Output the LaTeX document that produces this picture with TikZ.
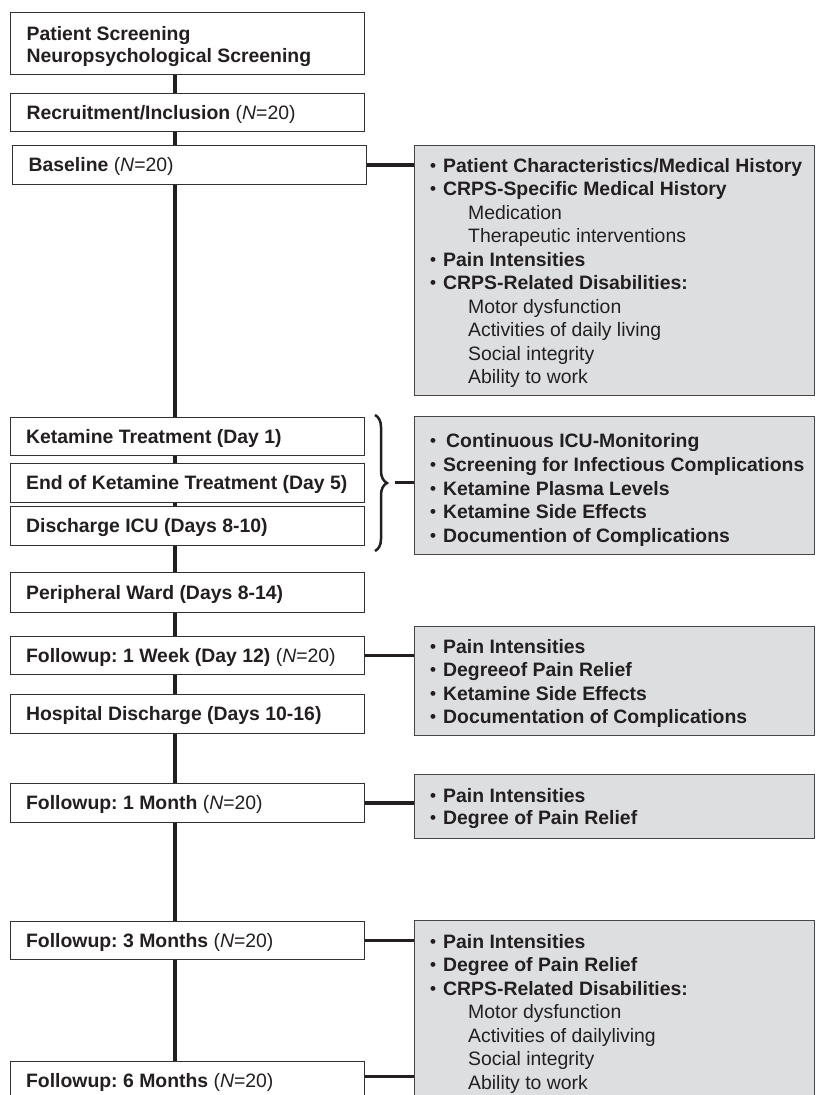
\documentclass[tikz,border=0pt]{standalone}
\usepackage{fontspec}
\setmainfont{Liberation Sans}
\usetikzlibrary{decorations.pathreplacing}
\definecolor{ink}{RGB}{35,31,32}
\definecolor{boxline}{RGB}{50,50,50}
\definecolor{grayfill}{RGB}{221,222,224}
\definecolor{grayline}{RGB}{70,70,70}
\frenchspacing
\newcommand{\lt}[1]{\makebox[322pt][l]{#1}}
\newcommand{\nn}{\textmd{(\textit{N}=20)}}
\newcommand{\bul}{\makebox[13pt][l]{\raisebox{1pt}{\fontsize{17}{17}\selectfont\textbullet}}}
\newcommand{\bulw}{\makebox[16pt][l]{\raisebox{1pt}{\fontsize{17}{17}\selectfont\textbullet}}}
\begin{document}
\begin{tikzpicture}[x=1pt,y=-1pt,
  lbox/.style={draw=boxline, line width=1.2pt, fill=white, anchor=north west,
    minimum height=38pt, inner xsep=16pt, inner ysep=0pt, text=ink,
    font=\fontsize{19.4}{22}\selectfont\bfseries, text height=14pt, text depth=1pt, align=left},
  gbox/.style={draw=grayline, line width=1.3pt, fill=grayfill, anchor=north west, inner sep=0pt, minimum width=400pt},
  gitem/.style={anchor=base west, inner sep=0pt, text=ink, font=\fontsize{19.4}{23.5}\selectfont\bfseries},
  gsub/.style={gitem, font=\fontsize{19.4}{23.5}\selectfont\mdseries},
  spine/.style={line width=3.2pt, draw=ink},
  link/.style={line width=3.4pt, draw=ink}]
\path[use as bounding box] (0,0) rectangle (815,1095);
\clip (0,0) rectangle (815,1095);

% left column
\node[lbox, minimum height=62pt, text height={}, text depth={}] (ps) at (10,12)
  {\lt{\rule{0pt}{20pt}Patient Screening}\\\lt{Neuropsychological Screening}};
\node[lbox] (ri) at (10,93) {\lt{Recruitment/Inclusion \nn}};
\node[lbox, minimum height=39pt] (bl) at (12,145) {\lt{Baseline \nn}};
\node[lbox] (k1) at (9.5,417) {\lt{Ketamine Treatment (Day 1)}};
\node[lbox, minimum height=39pt] (k5) at (9.5,463) {\lt{End of Ketamine Treatment (Day 5)}};
\node[lbox, minimum height=39pt] (icu) at (9.5,506) {\lt{Discharge ICU (Days 8-10)}};
\node[lbox, minimum height=40pt] (pw) at (9.5,572) {\lt{Peripheral Ward (Days 8-14)}};
\node[lbox] (w1) at (9.5,636) {\lt{Followup: 1 Week (Day 12) \nn}};
\node[lbox, minimum height=39pt] (hd) at (9.5,694) {\lt{Hospital Discharge (Days 10-16)}};
\node[lbox, minimum height=39pt] (m1) at (9.5,783) {\lt{Followup: 1 Month \nn}};
\node[lbox] (m3) at (9.5,921) {\lt{Followup: 3 Months \nn}};
\node[lbox] (m6) at (9.5,1061) {\lt{Followup: 6 Months \nn}};

% spine
\coordinate (sp) at (175,0);
\foreach \a/\b in {ps/ri, ri/bl, bl/k1, k1/k5, k5/icu, icu/pw, pw/w1, w1/hd, hd/m1, m1/m3, m3/m6}
  \draw[spine] (sp |- \a.south) -- (sp |- \b.north);

% gray boxes
\node[gbox, minimum height=250pt] (g1) at (414,145) {};
\node[gbox, minimum height=138pt] (g2) at (414,416) {};
\node[gbox, minimum height=109pt] (g3) at (414,626) {};
\node[gbox, minimum height=64pt] (g4) at (414,774) {};
\node[gbox, minimum height=200pt] (g5) at (414,920) {};

% links
\draw[link] (bl.east) -- (bl.east -| g1.west);
\draw[link] (w1.east) -- (w1.east -| g3.west);
\draw[link] (m1.east) -- (m1.east -| g4.west);
\draw[link] (m3.east) -- (m3.east -| g5.west);
\draw[link] ([yshift=4pt]m6.east) -- ([yshift=4pt]m6.east -| g5.west);

% brace
\draw[ink, line width=2.5pt, decorate, decoration={brace, amplitude=12pt, aspect=0.5}] (375,415) -- (375,551);
\coordinate (bt) at (395,482);
\draw[link, line width=3pt] (bt) -- (bt -| g2.west);

% gray box 1
\node[gitem] (g1a) at (430,172) {\bul Patient Characteristics/Medical History};
\node[gitem] (g1b) at (430,195.5) {\bul CRPS-Specific Medical History};
\node[gsub] (g1c) at (468,219) {Medication};
\node[gsub] (g1d) at (468,242.5) {Therapeutic interventions};
\node[gitem] (g1e) at (430,266) {\bul Pain Intensities};
\node[gitem] (g1f) at (430,289.5) {\bul CRPS-Related Disabilities:};
\node[gsub] (g1g) at (468,313) {Motor dysfunction};
\node[gsub] (g1h) at (468,336.5) {Activities of daily living};
\node[gsub] (g1i) at (468,360) {Social integrity};
\node[gsub] (g1j) at (468,383.5) {Ability to work};

% gray box 2
\node[gitem] (g2a) at (430,447) {\bulw Continuous ICU-Monitoring};
\node[gitem] (g2b) at (430,471) {\bul Screening for Infectious Complications};
\node[gitem] (g2c) at (430,495) {\bul Ketamine Plasma Levels};
\node[gitem] (g2d) at (430,518.5) {\bul Ketamine Side Effects};
\node[gitem] (g2e) at (430,542) {\bul Documention of Complications};

% gray box 3
\node[gitem] (g3a) at (430,653) {\bul Pain Intensities};
\node[gitem] (g3b) at (430,676.5) {\bul Degreeof Pain Relief};
\node[gitem] (g3c) at (430,700) {\bul Ketamine Side Effects};
\node[gitem] (g3d) at (430,723.5) {\bul Documentation of Complications};

% gray box 4
\node[gitem] (g4a) at (430,802) {\bul Pain Intensities};
\node[gitem] (g4b) at (430,824.5) {\bul Degree of Pain Relief};

% gray box 5
\node[gitem] (g5a) at (430,948) {\bul Pain Intensities};
\node[gitem] (g5b) at (430,971.5) {\bul Degree of Pain Relief};
\node[gitem] (g5c) at (430,995) {\bul CRPS-Related Disabilities:};
\node[gsub] (g5d) at (468,1018.5) {Motor dysfunction};
\node[gsub] (g5e) at (468,1042) {Activities of dailyliving};
\node[gsub] (g5f) at (468,1065.5) {Social integrity};
\node[gsub] (g5g) at (468,1089) {Ability to work};
\end{tikzpicture}
\end{document}
